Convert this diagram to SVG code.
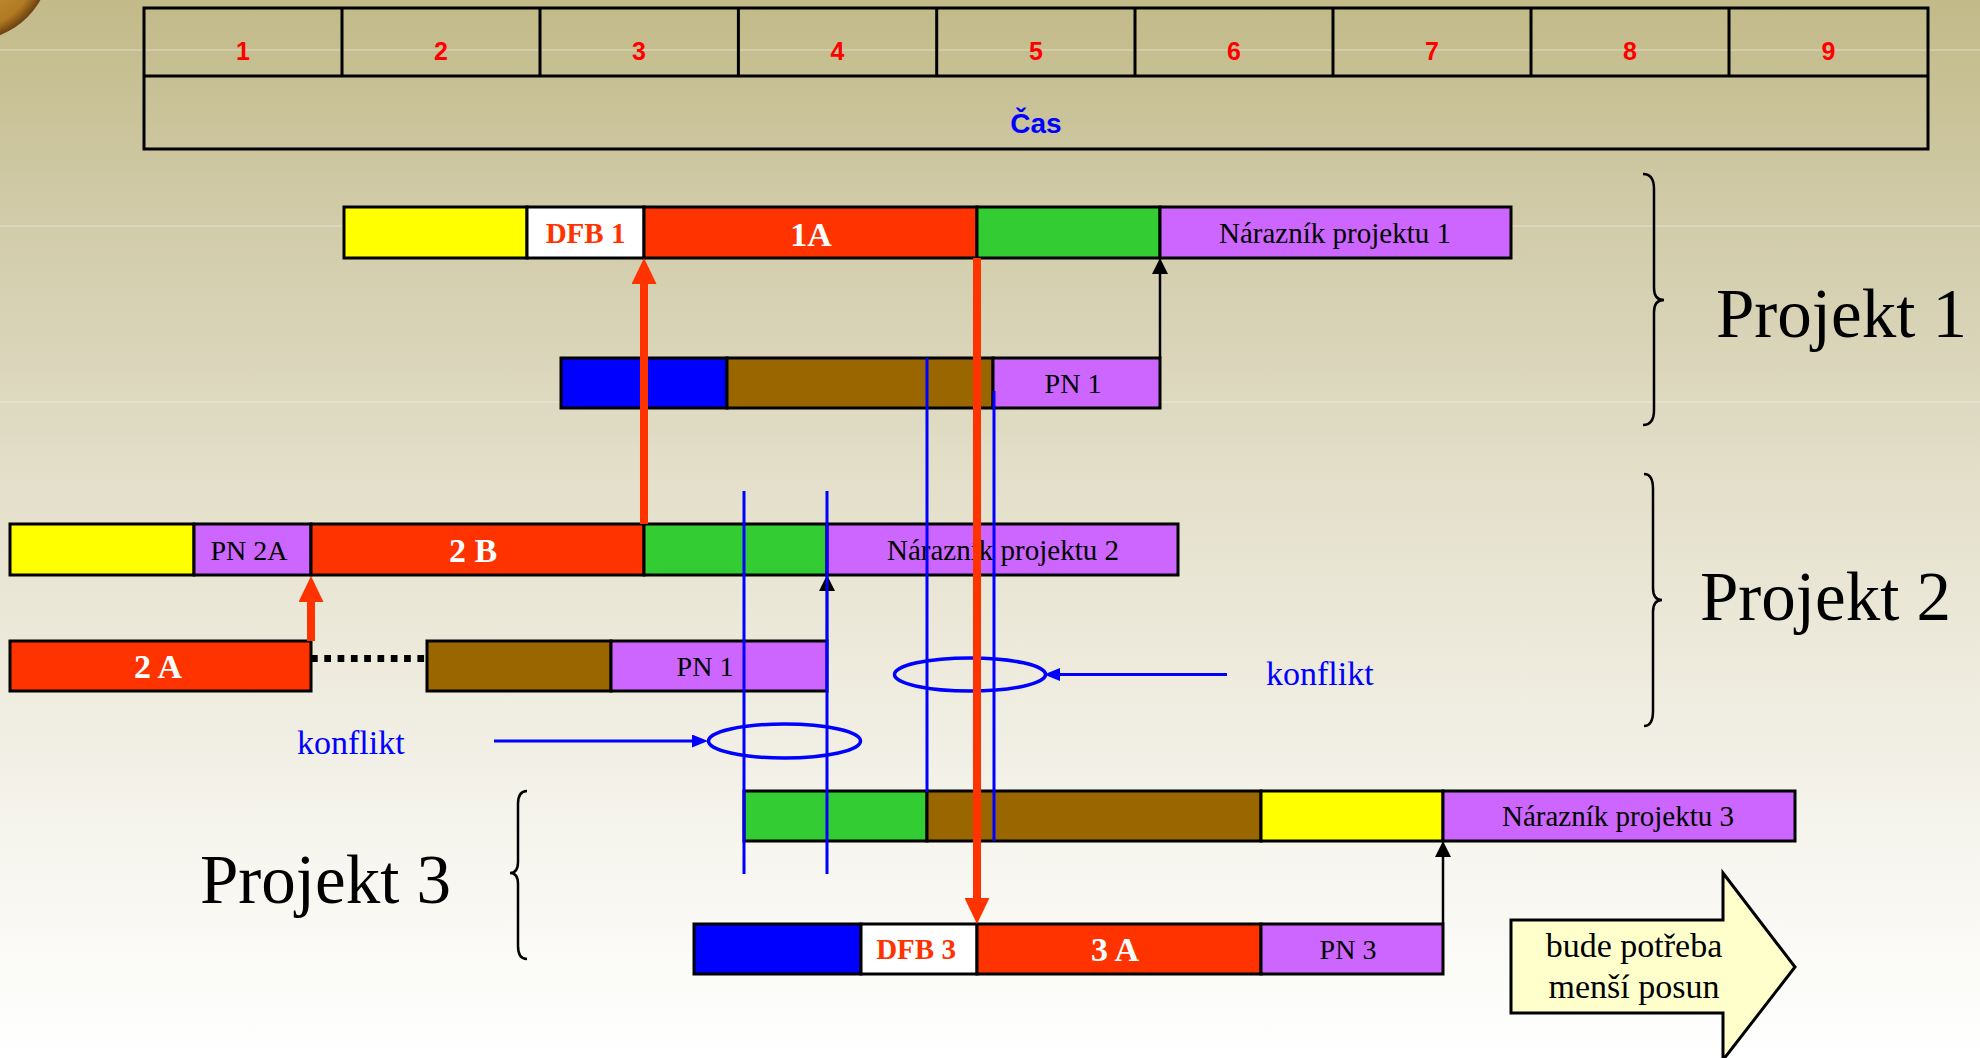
<svg xmlns="http://www.w3.org/2000/svg" width="1980" height="1058" viewBox="0 0 1980 1058">
<defs>
<linearGradient id="bg" x1="0" y1="0" x2="0" y2="1">
<stop offset="0" stop-color="#C2BA88"/>
<stop offset="0.18" stop-color="#CFC9A5"/>
<stop offset="0.44" stop-color="#E2DEC8"/>
<stop offset="0.6" stop-color="#ECE9DA"/>
<stop offset="0.8" stop-color="#F6F5EE"/>
<stop offset="1" stop-color="#FFFFFF"/>
</linearGradient>
<radialGradient id="coin" cx="0.5" cy="0.5" r="0.5">
<stop offset="0" stop-color="#D9A640"/>
<stop offset="0.85" stop-color="#B07A22"/>
<stop offset="1" stop-color="#6B3F10"/>
</radialGradient>
<marker id="redHead" viewBox="0 0 26 25" refX="0" refY="12.5" markerWidth="26" markerHeight="25" markerUnits="userSpaceOnUse" orient="auto">
<path d="M0,0 L26,12.5 L0,25 z" fill="#FF3300"/>
</marker>
<marker id="blackHead" viewBox="0 0 16 16" refX="0" refY="8" markerWidth="16" markerHeight="16" markerUnits="userSpaceOnUse" orient="auto">
<path d="M0,0 L16,8 L0,16 z" fill="#000"/>
</marker>
<marker id="blueHead" viewBox="0 0 16 13" refX="0" refY="6.5" markerWidth="16" markerHeight="13" markerUnits="userSpaceOnUse" orient="auto">
<path d="M0,0 L16,6.5 L0,13 z" fill="#0000FF"/>
</marker>
</defs>
<style>
.bar{stroke:#000;stroke-width:3}
.y{fill:#FFFF00}.w{fill:#FFFFFF}.r{fill:#FF3300}.g{fill:#33CC33}.p{fill:#CC66FF}.b{fill:#0000FF}.br{fill:#996600}
.lbl{font-family:"Liberation Serif","Times New Roman",serif;font-size:28px;fill:#000;text-anchor:middle}
.buf{font-family:"Liberation Serif","Times New Roman",serif;font-size:29px;fill:#000;text-anchor:middle}
.wb{font-family:"Liberation Serif","Times New Roman",serif;font-size:34px;font-weight:bold;fill:#FFFFFF;text-anchor:middle}
.dfb{font-family:"Liberation Serif","Times New Roman",serif;font-size:29px;font-weight:bold;fill:#FF3300;text-anchor:middle}
.num{font-family:"Liberation Sans",Arial,sans-serif;font-size:25px;font-weight:bold;fill:#FF0000;text-anchor:middle}
.proj{font-family:"Liberation Serif","Times New Roman",serif;font-size:69px;fill:#000}
.konf{font-family:"Liberation Serif","Times New Roman",serif;font-size:34px;fill:#0000FF}
.big{font-family:"Liberation Serif","Times New Roman",serif;font-size:34px;fill:#000;text-anchor:middle}
.grid{fill:none;stroke:#000;stroke-width:3}
.vline{stroke:#0000FF;stroke-width:3}
.brace{fill:none;stroke:#000;stroke-width:2.5}
.faint{stroke:#FFFFFF;stroke-opacity:0.3;stroke-width:1.5}
</style>
<rect x="0" y="0" width="1980" height="1058" fill="url(#bg)"/>
<line class="faint" x1="0" y1="50" x2="1980" y2="50"/>
<line class="faint" x1="0" y1="226" x2="1980" y2="226"/>
<line class="faint" x1="0" y1="402" x2="1980" y2="402"/>
<circle cx="-30" cy="-40" r="81" fill="url(#coin)"/>

<g id="timeline">
<rect class="grid" x="144" y="8" width="1784" height="141"/>
<line class="grid" x1="144" y1="76" x2="1928" y2="76"/>
<path class="grid" d="M342,8V76M540,8V76M738.4,8V76M936.7,8V76M1135,8V76M1333,8V76M1531,8V76M1729,8V76"/>
<text class="num" x="243" y="60">1</text>
<text class="num" x="441" y="60">2</text>
<text class="num" x="639" y="60">3</text>
<text class="num" x="837.5" y="60">4</text>
<text class="num" x="1036" y="60">5</text>
<text class="num" x="1234" y="60">6</text>
<text class="num" x="1432" y="60">7</text>
<text class="num" x="1630" y="60">8</text>
<text class="num" x="1828.5" y="60">9</text>
<text x="1036" y="133" font-family="Liberation Sans, Arial, sans-serif" font-size="28" font-weight="bold" fill="#0000FF" text-anchor="middle">Čas</text>
</g>

<g id="p1-chain">
<rect class="bar y" x="344" y="207" width="183" height="51"/>
<rect class="bar w" x="527" y="207" width="117" height="51"/>
<rect class="bar r" x="644" y="207" width="333" height="51"/>
<rect class="bar g" x="977" y="207" width="183" height="51"/>
<rect class="bar p" x="1160" y="207" width="351" height="51"/>
<text class="dfb" x="585.5" y="243">DFB 1</text>
<text class="wb" x="811" y="246">1A</text>
<text class="buf" x="1335" y="243">Nárazník projektu 1</text>
</g>

<g id="p1-feed">
<rect class="bar b" x="561" y="358" width="166" height="50"/>
<rect class="bar br" x="727" y="358" width="266" height="50"/>
<rect class="bar p" x="993" y="358" width="167" height="50"/>
<text class="lbl" x="1073" y="393">PN 1</text>
</g>

<g id="p2-chain">
<rect class="bar y" x="10" y="524" width="184" height="51"/>
<rect class="bar p" x="194" y="524" width="117" height="51"/>
<rect class="bar r" x="311" y="524" width="333" height="51"/>
<rect class="bar g" x="644" y="524" width="183" height="51"/>
<rect class="bar p" x="827" y="524" width="351" height="51"/>
<text class="lbl" x="249" y="560">PN 2A</text>
<text class="wb" x="473" y="562">2 B</text>
<text class="buf" x="1003" y="560">Nárazník projektu 2</text>
</g>

<g id="p2-feed">
<rect class="bar r" x="10" y="641" width="301" height="50"/>
<rect class="bar br" x="427" y="641" width="184" height="50"/>
<rect class="bar p" x="611" y="641" width="216" height="50"/>
<text class="wb" x="158" y="678">2 A</text>
<text class="lbl" x="705" y="676">PN 1</text>
</g>

<g id="p3-chain">
<rect class="bar g" x="744" y="791" width="183" height="50"/>
<rect class="bar br" x="927" y="791" width="334" height="50"/>
<rect class="bar y" x="1261" y="791" width="182" height="50"/>
<rect class="bar p" x="1443" y="791" width="352" height="50"/>
<text class="buf" x="1618" y="826">Nárazník projektu 3</text>
</g>

<g id="p3-feed">
<rect class="bar b" x="694" y="924" width="167" height="50"/>
<rect class="bar w" x="861" y="924" width="116" height="50"/>
<rect class="bar r" x="977" y="924" width="284" height="50"/>
<rect class="bar p" x="1261" y="924" width="182" height="50"/>
<text class="dfb" x="916" y="959">DFB 3</text>
<text class="wb" x="1115" y="961">3 A</text>
<text class="lbl" x="1348" y="959">PN 3</text>
</g>

<g id="labels">
<path class="brace" d="M1643,174 Q1654,174 1654,189 L1654,288 Q1654,300 1664,300 Q1654,300 1654,312 L1654,410 Q1654,425 1643,425"/>
<text class="proj" x="1716" y="337">Projekt 1</text>
<path class="brace" d="M1644,474 Q1653,474 1653,489 L1653,588 Q1653,600 1662,600 Q1653,600 1653,612 L1653,711 Q1653,726 1644,726"/>
<text class="proj" x="1700" y="620">Projekt 2</text>
<path class="brace" d="M527,791 Q518,791 518,804 L518,862 Q518,873 510,873 Q518,873 518,884 L518,946 Q518,959 527,959"/>
<text class="proj" x="200" y="903">Projekt 3</text>
</g>

<g id="note">
<polygon points="1511,920 1723,920 1723,873 1795,967 1723,1060 1723,1013 1511,1013" fill="#FFFFCC" stroke="#000" stroke-width="3"/>
<text class="big" x="1634" y="957">bude potřeba</text>
<text class="big" x="1634" y="998">menší posun</text>
</g>

<g id="konflikt-right">
<ellipse cx="970" cy="674.5" rx="75.5" ry="16.5" fill="none" stroke="#0000FF" stroke-width="3.5"/>
<text class="konf" x="1266" y="685">konflikt</text>
</g>
<g id="konflikt-left">
<ellipse cx="784.5" cy="741" rx="76" ry="17" fill="none" stroke="#0000FF" stroke-width="3.5"/>
<text class="konf" x="297" y="754">konflikt</text>
</g>

<g id="connectors">
<line x1="311" y1="658.5" x2="427" y2="658.5" stroke="#000" stroke-width="7" stroke-dasharray="6.7 6.6"/>
<line x1="1160" y1="358" x2="1160" y2="274" stroke="#000" stroke-width="2.5" marker-end="url(#blackHead)"/>
<line x1="827" y1="641" x2="827" y2="591" stroke="#000" stroke-width="2.5" marker-end="url(#blackHead)"/>
<line x1="1443" y1="924" x2="1443" y2="857" stroke="#000" stroke-width="2.5" marker-end="url(#blackHead)"/>
<line class="vline" x1="744" y1="491" x2="744" y2="874"/>
<line class="vline" x1="827" y1="491" x2="827" y2="874"/>
<line class="vline" x1="927" y1="358" x2="927" y2="792"/>
<line class="vline" x1="994" y1="391" x2="994" y2="841"/>
<line x1="1227" y1="674.5" x2="1060" y2="674.5" stroke="#0000FF" stroke-width="3" marker-end="url(#blueHead)"/>
<line x1="494" y1="741" x2="692" y2="741" stroke="#0000FF" stroke-width="3" marker-end="url(#blueHead)"/>
<line x1="644" y1="524" x2="644" y2="284" stroke="#FF3300" stroke-width="8" marker-end="url(#redHead)"/>
<line x1="311" y1="641" x2="311" y2="602" stroke="#FF3300" stroke-width="8" marker-end="url(#redHead)"/>
<line x1="977" y1="258" x2="977" y2="898" stroke="#FF3300" stroke-width="8" marker-end="url(#redHead)"/>
</g>
</svg>
